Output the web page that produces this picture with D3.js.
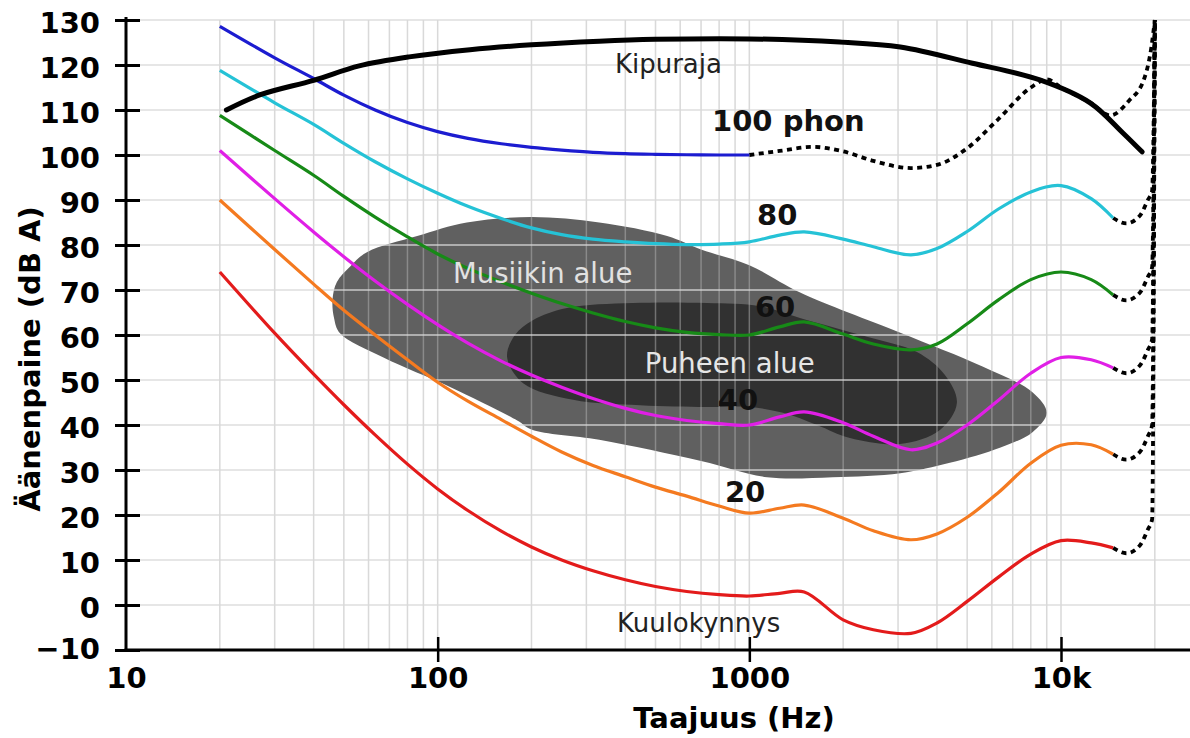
<!DOCTYPE html>
<html>
<head>
<meta charset="utf-8">
<script src="https://cdn.jsdelivr.net/npm/d3@7"></script>
<style>
  body { margin: 0; background: #fff; }
  svg { display: block; font-family: "DejaVu Sans", sans-serif; }
</style>
</head>
<body>
<div id="chart"></div>
<script>
// equal-loudness contours (Hz / dB)
const freqs = [20, 30, 40, 50, 63, 80, 100, 125, 160, 200, 250, 315, 400, 500, 630, 800, 1000, 1250, 1500, 2000, 2500, 3300, 4000, 5000, 6300, 8000, 10000, 12500, 14700];
const phon0 = [74, 60.4, 51.3, 44.5, 37.8, 31.3, 25.8, 21, 16.4, 12.9, 10, 7.6, 5.6, 4.1, 3, 2.3, 2, 2.6, 2.9, -3.3, -5.5, -6.3, -4, 0.8, 6.2, 11.3, 14.3, 13.8, 12.7];
const phon20 = [90, 79, 71.3, 65.5, 60, 54.5, 49.5, 45.3, 41.2, 37.5, 34, 31, 28.5, 26.2, 24.2, 22, 20.4, 21.5, 22.2, 19.3, 16.5, 14.5, 15.8, 19.5, 25, 31.5, 35.5, 35.6, 33.5];
const phon40 = [101, 90.3, 82.9, 77.4, 72, 66.8, 62.3, 58.2, 54.2, 51.1, 48.4, 45.9, 43.7, 42.1, 41, 40.3, 40, 41.8, 42.9, 40.5, 37.5, 34.5, 36, 40, 45.5, 51.5, 55, 54.5, 52.7];
const phon60 = [108.8, 101, 95.5, 90.8, 86.2, 81.8, 78, 74.8, 71.8, 69.3, 67, 64.9, 63, 61.6, 60.6, 60.1, 60, 61.8, 62.9, 60.2, 58, 56.7, 58, 62.5, 67.8, 72.3, 74, 72.3, 68.9];
const phon80 = [118.8, 111.6, 106.8, 102.6, 98.5, 94.7, 91.5, 88.6, 85.9, 83.8, 82.3, 81.3, 80.7, 80.3, 80.1, 80.2, 80.7, 82.2, 82.9, 81.3, 79.6, 77.8, 79.2, 83, 88, 91.8, 93.2, 90.3, 86];
const phon100 = [128.6, 121.6, 117, 113.3, 110, 107.2, 105.2, 103.7, 102.5, 101.7, 101.1, 100.6, 100.3, 100.15, 100.05, 100, 100]; // 20..1000 Hz

// dotted (uncertain) parts
const dotted100Freqs = [1000, 1250, 1600, 2000, 2500, 3300, 4000, 5000, 6300, 8000, 9000, 10000, 12500, 14400, 16500, 18500, 19500, 20000];
const dotted100 = [100, 100.9, 101.8, 100.8, 98.7, 97.1, 97.8, 101.5, 108, 115, 116.8, 115, 111.5, 108.8, 112, 117, 124, 130];
const extFreqs = [14700, 16200, 17900, 19000, 19600, 20000];
const ext0 = [12.7, 11.5, 13.2, 16.8, 19, 130];
const ext20 = [33.5, 32.3, 34, 37.5, 40, 130];
const ext40 = [52.7, 51.5, 53.2, 56.7, 59, 130];
const ext60 = [68.9, 67.7, 69.4, 72.9, 75, 130];
const ext80 = [86, 84.8, 86.5, 90, 92, 130];

// pain threshold
const painFreqs = [21, 27, 40, 56, 81, 127, 200, 330, 500, 1000, 1950, 3050, 5200, 8550, 12400, 15800, 18200];
const painDb = [110, 113.4, 116.6, 119.8, 121.8, 123.4, 124.5, 125.3, 125.7, 125.8, 125.1, 124, 120.4, 116.7, 111.6, 104.9, 100.7];

// music and speech regions (outline points, Hz / dB)
const musicArea = [[48.6, 60.4], [46.5, 63.8], [46, 68], [47.5, 71.8], [52.5, 75.3], [59.3, 78.4], [86, 82], [124, 85], [200, 86.2], [330, 85],
  [545, 82], [700, 79], [1000, 75.5], [1450, 69.5], [3050, 60.5], [5600, 53], [8100, 47.3], [9000, 42.7], [8100, 38.4], [6400, 35],
  [4400, 31.6], [3050, 29.3], [1850, 28.4], [1140, 28.4], [700, 32], [330, 36.7], [200, 39], [180, 41], [110, 48.4], [67, 55]];
const speechArea = [[167, 55.1], [177, 60], [202, 63.3], [260, 66], [423, 67.1], [731, 67.1], [1081, 66.4], [1453, 63.8], [2384, 59.6],
  [3449, 56.2], [4242, 51.1], [4634, 44.9], [4088, 38.9], [3042, 35.8], [2103, 37.1], [1648, 40], [1282, 42.7], [1004, 44],
  [731, 44], [446, 44.4], [272, 45.6], [188, 49.3]];

const yTickValues = [-10, 0, 10, 20, 30, 40, 50, 60, 70, 80, 90, 100, 110, 120, 130];
const xTickValues = [10, 100, 1000, 10000];
const xTickLabels = ["10", "100", "1000", "10k"];

const width = 1190, height = 738;

const x = d3.scaleLog().domain([10, 10000]).range([126, 1061]);
const y = d3.scaleLinear().domain([-10, 130]).range([650, 20]);

const svg = d3.select("#chart").append("svg")
  .attr("width", width)
  .attr("height", height);

// regions
const area = d3.line()
  .x(d => x(d[0]))
  .y(d => y(d[1]))
  .curve(d3.curveCatmullRomClosed.alpha(0.5));

svg.append("path").attr("d", area(musicArea)).attr("fill", "#606060");
svg.append("path").attr("d", area(speechArea)).attr("fill", "#313131");

// grid (drawn over the regions, lighter lines)
const gridFreqs = x.copy().domain([10, 20000]).ticks().filter(f => f > 10);
svg.append("g").selectAll("line")
  .data(gridFreqs)
  .enter().append("line")
  .attr("x1", d => x(d)).attr("x2", d => x(d))
  .attr("y1", y(130)).attr("y2", y(-10))
  .attr("stroke", "#b4b4b4")
  .attr("stroke-opacity", 0.5)
  .attr("stroke-width", 1.5);

svg.append("g").selectAll("line")
  .data(yTickValues.filter(v => v > -10))
  .enter().append("line")
  .attr("x1", x(10)).attr("x2", width)
  .attr("y1", d => y(d)).attr("y2", d => y(d))
  .attr("stroke", "#d8d8d8")
  .attr("stroke-opacity", 0.65)
  .attr("stroke-width", 2);

// contours
const smooth = d3.line()
  .x(d => x(d[0]))
  .y(d => y(d[1]))
  .curve(d3.curveCatmullRom.alpha(0.5));
const steep = d3.line()
  .x(d => x(d[0]))
  .y(d => y(d[1]))
  .curve(d3.curveMonotoneX);

const pairs = (fs, vs) => vs.map((v, i) => [fs[i], v]);

const extensions = [ext0, ext20, ext40, ext60, ext80];
extensions.forEach(e => {
  svg.append("path")
    .attr("d", steep(pairs(extFreqs, e)))
    .attr("fill", "none")
    .attr("stroke", "#000")
    .attr("stroke-width", 3.8)
    .attr("stroke-dasharray", "5,4.5");
});
svg.append("path")
  .attr("d", steep(pairs(dotted100Freqs, dotted100)))
  .attr("fill", "none")
  .attr("stroke", "#000")
  .attr("stroke-width", 3.8)
  .attr("stroke-dasharray", "5,4.5");

const contours = [phon0, phon20, phon40, phon60, phon80, phon100];
const colors = ["#e31b1b", "#f47a20", "#e01fe6", "#178a17", "#25c2d6", "#1c1cd0"];
contours.forEach((c, i) => {
  svg.append("path")
    .attr("d", smooth(pairs(freqs, c)))
    .attr("fill", "none")
    .attr("stroke", colors[i])
    .attr("stroke-width", 3.2);
});

svg.append("path")
  .attr("d", smooth(pairs(painFreqs, painDb)))
  .attr("fill", "none")
  .attr("stroke", "#000")
  .attr("stroke-width", 5)
  .attr("stroke-linecap", "round");

// axes
const yAxis = svg.append("g")
  .attr("transform", "translate(" + x(10) + ",0)")
  .call(d3.axisLeft(y).tickValues(yTickValues).tickSize(11));
yAxis.select(".domain").remove();
yAxis.selectAll(".tick line").attr("x1", 14).attr("x2", -11).attr("stroke", "#000").attr("stroke-width", 3);
yAxis.selectAll(".tick text")
  .attr("x", -26)
  .attr("dy", d => d === -10 ? "0.28em" : "0.43em")
  .attr("font-size", 29)
  .attr("font-weight", "bold")
  .attr("font-family", "DejaVu Sans")
  .attr("fill", "#000");

const xAxis = svg.append("g")
  .attr("transform", "translate(0," + y(-10) + ")")
  .call(d3.axisBottom(x).tickValues(xTickValues).tickFormat((d, i) => xTickLabels[i]).tickSize(12));
xAxis.select(".domain").remove();
xAxis.selectAll(".tick line").attr("y1", -13).attr("y2", 12).attr("stroke", "#000").attr("stroke-width", 2.5)
  .filter(d => d === 10).remove();
xAxis.selectAll(".tick text")
  .attr("y", 38)
  .attr("dy", 0)
  .attr("font-size", 29)
  .attr("font-weight", "bold")
  .attr("font-family", "DejaVu Sans")
  .attr("fill", "#000");

svg.append("line")
  .attr("x1", x(10)).attr("x2", x(10))
  .attr("y1", y(130) - 3).attr("y2", y(-10) + 1.5)
  .attr("stroke", "#000").attr("stroke-width", 3);
svg.append("line")
  .attr("x1", x(10) - 1.5).attr("x2", width)
  .attr("y1", y(-10)).attr("y2", y(-10))
  .attr("stroke", "#000").attr("stroke-width", 3);

// axis titles
svg.append("text")
  .attr("x", 734).attr("y", 728)
  .attr("text-anchor", "middle")
  .attr("font-size", 29).attr("font-weight", "bold")
  .text("Taajuus (Hz)");
svg.append("text")
  .attr("transform", "translate(40,359) rotate(-90)")
  .attr("text-anchor", "middle")
  .attr("font-size", 29).attr("font-weight", "bold")
  .text("Äänenpaine (dB A)");

// annotations
const note = (f, db, txt, opts) => {
  svg.append("text")
    .attr("x", x(f)).attr("y", y(db))
    .attr("font-size", opts.size)
    .attr("font-weight", opts.bold ? "bold" : "normal")
    .attr("fill", opts.color)
    .attr("text-anchor", opts.anchor || "start")
    .text(txt);
};
note(550, 118.2, "Kipuraja", { size: 26, color: "#222", anchor: "middle" });
note(759, 105.3, "100 phon", { size: 29, bold: true, color: "#111" });
note(1058, 84.4, "80", { size: 29, bold: true, color: "#111" });
note(1042, 64, "60", { size: 29, bold: true, color: "#111" });
note(792, 43.3, "40", { size: 29, bold: true, color: "#111" });
note(835, 22.9, "20", { size: 29, bold: true, color: "#111" });
note(376, -6, "Kuulokynnys", { size: 26, color: "#222" });
note(112, 71.6, "Musiikin alue", { size: 27.5, color: "#e2e2e2" });
note(462, 51.6, "Puheen alue", { size: 27.5, color: "#e6e6e6" });
</script>
</body>
</html>
